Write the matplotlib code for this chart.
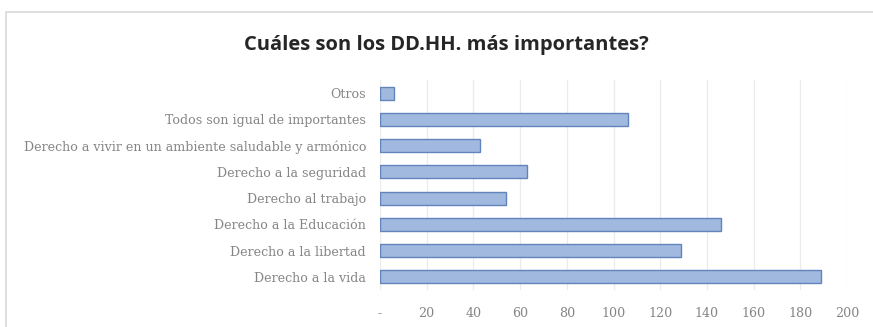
import matplotlib
matplotlib.use("Agg")
import matplotlib.pyplot as plt
from matplotlib.patches import Rectangle

# survey answers, listed bottom to top as drawn
categories = [
    "Derecho a la vida",
    "Derecho a la libertad",
    "Derecho a la Educación",
    "Derecho al trabajo",
    "Derecho a la seguridad",
    "Derecho a vivir en un ambiente saludable y armónico",
    "Todos son igual de importantes",
    "Otros",
]
votes = [189, 129, 146, 54, 63, 43, 106, 6]

x_ticks = [0, 20, 40, 60, 80, 100, 120, 140, 160, 180, 200]
x_tick_labels = ["-", "20", "40", "60", "80", "100", "120", "140", "160", "180", "200"]

title = "Cuáles son los DD.HH. más importantes?"

fig = plt.figure(figsize=(8.73, 3.27), dpi=100)
fig.patch.set_facecolor("white")

# chart frame (cut off at the right and bottom)
fig.patches.append(Rectangle((6 / 873, -0.05), 1.0, 1 - 12 / 327 + 0.05,
                             transform=fig.transFigure, fill=False,
                             edgecolor="#d9d9d9", linewidth=1.2))

ax = fig.add_axes([380 / 873, 1 - 290 / 327, 467 / 873, 210 / 327])
ax.barh(range(len(categories)), votes, height=0.5,
        color="#a2b9df", edgecolor="#6284bd", linewidth=1.0, zorder=3)

ax.set_xlim(0, 200)
ax.set_ylim(-0.5, len(categories) - 0.5)
ax.set_xticks(x_ticks)
ax.set_xticklabels(x_tick_labels)
ax.set_yticks(range(len(categories)))
ax.set_yticklabels(categories)

for lbl in ax.get_xticklabels() + ax.get_yticklabels():
    lbl.set_fontfamily("DejaVu Serif")
    lbl.set_fontsize(9.1)
    lbl.set_color("#858585")

ax.tick_params(axis="both", length=0)
ax.tick_params(axis="x", pad=12)
ax.tick_params(axis="y", pad=10)
ax.grid(axis="x", color="#ebebeb", linewidth=0.9, zorder=0)
for s in ax.spines.values():
    s.set_visible(False)

fig.text(446 / 873, 1 - 45 / 327, title, ha="center", va="center",
         fontsize=14.5, fontweight="bold", family="Open Sans", color="#262626")

fig.savefig("out.png", dpi=100)
